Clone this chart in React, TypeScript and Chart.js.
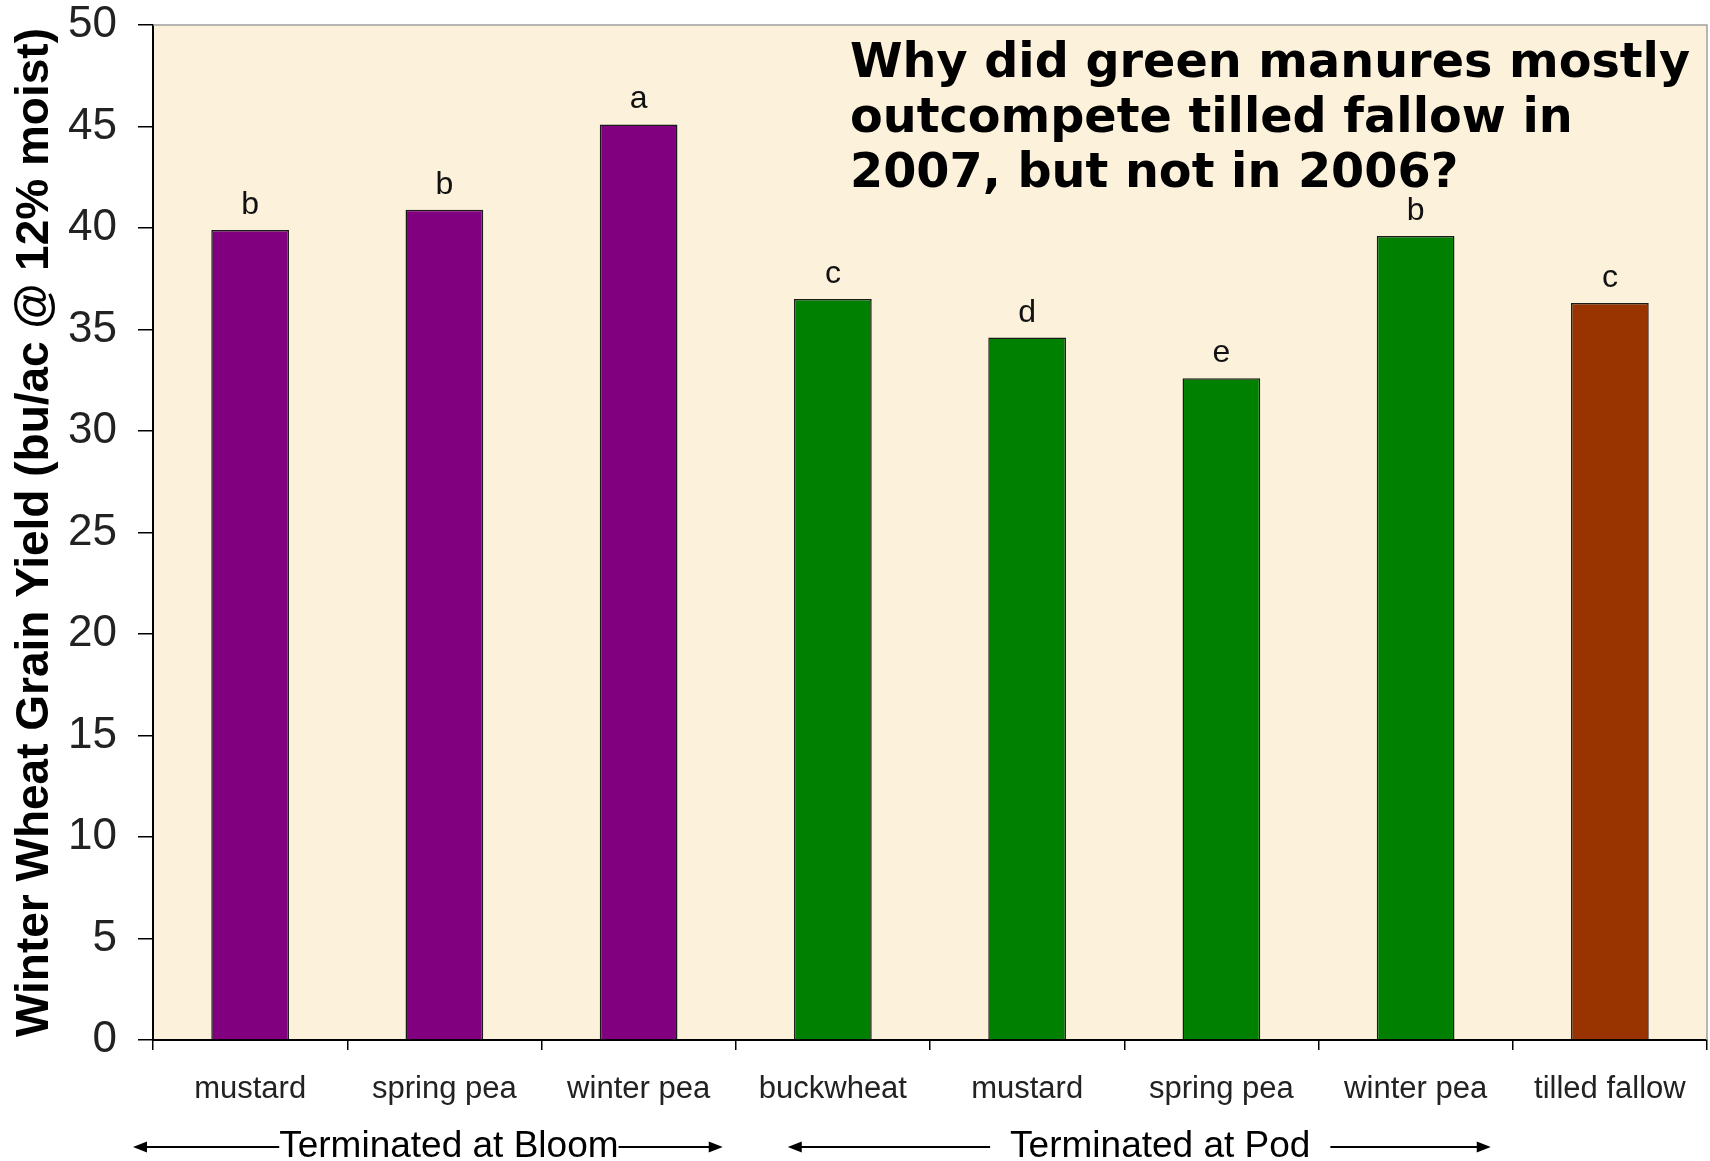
import { useEffect, useRef } from "react";
import { Chart, registerables } from "chart.js";

Chart.register(...registerables);

// Winter wheat grain yield after each green manure / fallow treatment
const categories = [
  "mustard",
  "spring pea",
  "winter pea",
  "buckwheat",
  "mustard",
  "spring pea",
  "winter pea",
  "tilled fallow",
];
const yields = [39.9, 40.9, 45.1, 36.5, 34.6, 32.6, 39.6, 36.3];
const significance = ["b", "b", "a", "c", "d", "e", "b", "c"];
const barColors = [
  "#800080",
  "#800080",
  "#800080",
  "#008000",
  "#008000",
  "#008000",
  "#008000",
  "#993300",
];

// Treatment groups shown under the category labels (first..last category index)
const groupNames = ["Terminated at Bloom", "Terminated at Pod"];
const groupFirst = [0, 3];
const groupLast = [2, 6];

const yMin = 0;
const yMax = 50;
const yStep = 5;

const yAxisTitle = "Winter Wheat Grain Yield (bu/ac @ 12% moist)";
const questionLines = [
  "Why did green manures mostly",
  "outcompete tilled fallow in",
  "2007, but not in 2006?",
];

const SANS = "'Liberation Sans', Arial, Helvetica, sans-serif";

// Parchment fill and grey frame on top/right of the plot area
const plotBackground = {
  id: "plotBackground",
  beforeDraw(chart: Chart) {
    const { ctx, chartArea: a } = chart;
    ctx.save();
    ctx.fillStyle = "#fcf1db";
    ctx.fillRect(a.left, a.top, a.right - a.left, a.bottom - a.top);
    ctx.restore();
  },
  afterDraw(chart: Chart) {
    const { ctx, chartArea: a } = chart;
    ctx.save();
    ctx.strokeStyle = "#a0a0a0";
    ctx.lineWidth = 1.5;
    ctx.beginPath();
    ctx.moveTo(a.left, a.top);
    ctx.lineTo(a.right, a.top);
    ctx.lineTo(a.right, a.bottom);
    ctx.stroke();
    ctx.restore();
  },
};

// Significance letters above each bar
const barLetters = {
  id: "barLetters",
  afterDatasetsDraw(chart: Chart) {
    const { ctx } = chart;
    const meta = chart.getDatasetMeta(0);
    ctx.save();
    ctx.font = `32px ${SANS}`;
    ctx.fillStyle = "#111";
    ctx.textAlign = "center";
    ctx.textBaseline = "alphabetic";
    meta.data.forEach((el: any, i: number) => {
      ctx.fillText(significance[i], el.x, el.y - 16);
    });
    ctx.restore();
  },
};

// Question text in the upper right of the plot
const questionText = {
  id: "questionText",
  afterDraw(chart: Chart) {
    const { ctx, chartArea: a } = chart;
    ctx.save();
    ctx.font = `bold 47.7px 'DejaVu Sans', Verdana, sans-serif`;
    ctx.fillStyle = "#000";
    ctx.textAlign = "left";
    ctx.textBaseline = "alphabetic";
    questionLines.forEach((line, i) => {
      ctx.fillText(line, a.left + 697, a.top + 52 + i * 55);
    });
    ctx.restore();
  },
};

// Group captions with double-headed arrows beneath the x axis
const groupArrows = {
  id: "groupArrows",
  afterDraw(chart: Chart) {
    const { ctx, chartArea: a } = chart;
    const x = chart.scales.x;
    const step = x.getPixelForValue(1) - x.getPixelForValue(0);
    const insets = [
      [-20, -13],
      [52, -22],
    ];
    const gaps = [0, 20];
    const lineY = a.bottom + 107;
    const textY = a.bottom + 117;
    ctx.save();
    ctx.font = `37px ${SANS}`;
    ctx.fillStyle = "#000";
    ctx.strokeStyle = "#000";
    ctx.lineWidth = 2;
    ctx.textAlign = "center";
    ctx.textBaseline = "alphabetic";
    groupNames.forEach((name, g) => {
      const x0 = x.getPixelForValue(groupFirst[g]) - step / 2 + insets[g][0];
      const x1 = x.getPixelForValue(groupLast[g]) + step / 2 + insets[g][1];
      const cx = (x0 + x1) / 2 + 21;
      const w = ctx.measureText(name).width;
      ctx.fillText(name, cx, textY);
      ctx.beginPath();
      ctx.moveTo(x0 + 10, lineY);
      ctx.lineTo(cx - w / 2 - gaps[g], lineY);
      ctx.moveTo(cx + w / 2 + gaps[g], lineY);
      ctx.lineTo(x1 - 10, lineY);
      ctx.stroke();
      // arrow heads
      ctx.beginPath();
      ctx.moveTo(x0, lineY);
      ctx.lineTo(x0 + 14, lineY - 5.5);
      ctx.lineTo(x0 + 14, lineY + 5.5);
      ctx.closePath();
      ctx.moveTo(x1, lineY);
      ctx.lineTo(x1 - 14, lineY - 5.5);
      ctx.lineTo(x1 - 14, lineY + 5.5);
      ctx.closePath();
      ctx.fill();
    });
    ctx.restore();
  },
};

export default function App() {
  const canvasRef = useRef<HTMLCanvasElement | null>(null);

  useEffect(() => {
    document.body.style.margin = "0";
    const canvas = canvasRef.current;
    if (!canvas) return;
    const chart = new Chart(canvas, {
      type: "bar",
      data: {
        labels: categories,
        datasets: [
          {
            data: yields,
            backgroundColor: barColors,
            borderColor: "#1a1a1a",
            borderWidth: 1.5,
            barPercentage: 0.4,
            categoryPercentage: 1,
          },
        ],
      },
      options: {
        responsive: false,
        animation: false,
        devicePixelRatio: 1,
        layout: { padding: { left: 0, top: 25, right: 3, bottom: 0 } },
        plugins: {
          legend: { display: false },
          tooltip: { enabled: false },
        },
        scales: {
          x: {
            offset: true,
            grid: {
              offset: true,
              drawOnChartArea: false,
              drawTicks: true,
              tickLength: 10,
              color: "#000",
              lineWidth: 1.5,
            },
            border: { display: true, color: "#000", width: 2 },
            ticks: {
              color: "#222",
              padding: 21,
              maxRotation: 0,
              autoSkip: false,
              font: { family: SANS, size: 31 },
            },
            afterFit(scale: any) {
              scale.height = 121;
              scale.paddingLeft = 0;
              scale.paddingRight = 0;
            },
          },
          y: {
            min: yMin,
            max: yMax,
            ticks: {
              stepSize: yStep,
              color: "#222",
              padding: 21,
              font: { family: SANS, size: 44 },
            },
            grid: {
              drawOnChartArea: false,
              drawTicks: true,
              tickLength: 15,
              color: "#000",
              lineWidth: 1.5,
            },
            border: { display: true, color: "#000", width: 2 },
            title: {
              display: true,
              text: yAxisTitle,
              color: "#000",
              padding: { top: 8, bottom: 0 },
              font: { family: SANS, size: 46, weight: "bold" },
            },
            afterFit(scale: any) {
              scale.width = 153;
              scale.paddingTop = 0;
              scale.paddingBottom = 0;
            },
          },
        },
      },
      plugins: [plotBackground, barLetters, questionText, groupArrows],
    });
    return () => chart.destroy();
  }, []);

  return (
    <div style={{ position: "fixed", left: 0, top: 0, width: 1710, height: 1161, background: "#fff" }}>
      <canvas ref={canvasRef} width={1710} height={1161} />
    </div>
  );
}
